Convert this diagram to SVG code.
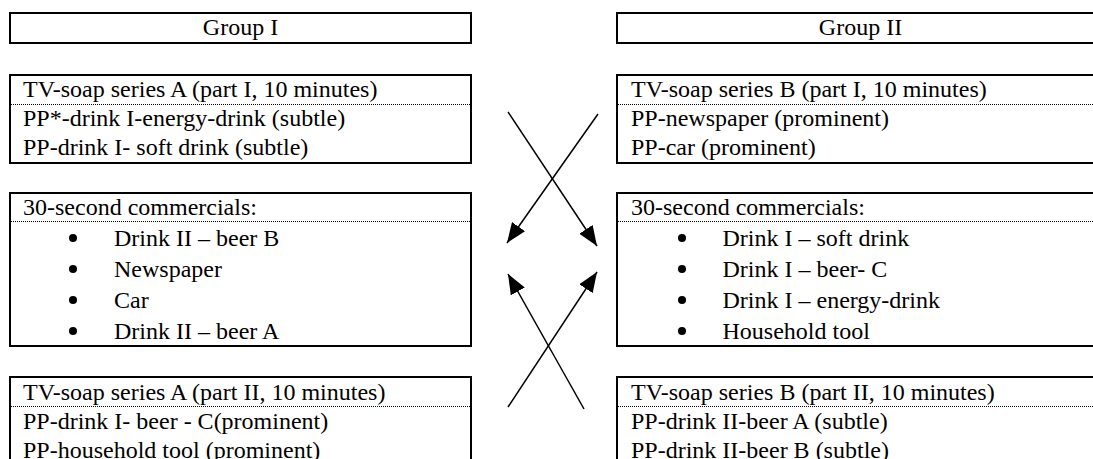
<svg xmlns="http://www.w3.org/2000/svg" width="1093" height="459" viewBox="0 0 1093 459">
<style>
.box{fill:#fff;stroke:#000;stroke-width:2}
.dot{stroke:#000;stroke-width:1;stroke-dasharray:1 1;fill:none}
.t{font-family:"Liberation Serif","Times New Roman",serif;font-size:24px;fill:#000}
.c{text-anchor:middle}
.b{fill:#000}
.arr{stroke:#000;stroke-width:1.5;fill:none;marker-end:url(#ah)}
</style>
<defs>
<marker id="ah" markerUnits="userSpaceOnUse" markerWidth="22" markerHeight="16" refX="20" refY="8" orient="auto">
<path d="M0,0 L20,8 L0,16 Z" fill="#000"/>
</marker>
</defs>
<rect width="1093" height="459" fill="#fff"/>

<g id="group1">
<rect class="box" x="10" y="13" width="461" height="30"/>
<text class="t c" x="240.5" y="35">Group I</text>
</g>
<g id="group2">
<rect class="box" x="617" y="13" width="487" height="30"/>
<text class="t c" x="860.5" y="35">Group II</text>
</g>

<g id="a1">
<rect class="box" x="10" y="75" width="461" height="88"/>
<line class="dot" x1="11" y1="104.5" x2="470" y2="104.5"/>
<text class="t" x="23" y="97">TV-soap series A (part I, 10 minutes)</text>
<text class="t" x="23" y="126">PP*-drink I-energy-drink (subtle)</text>
<text class="t" x="23" y="155">PP-drink I- soft drink (subtle)</text>
</g>
<g id="b1">
<rect class="box" x="617" y="75" width="487" height="88"/>
<line class="dot" x1="618" y1="104.5" x2="1093" y2="104.5"/>
<text class="t" x="631" y="97">TV-soap series B (part I, 10 minutes)</text>
<text class="t" x="631" y="126">PP-newspaper (prominent)</text>
<text class="t" x="631" y="155">PP-car (prominent)</text>
</g>

<g id="a2">
<rect class="box" x="10" y="193" width="461" height="153"/>
<line class="dot" x1="11" y1="221.5" x2="470" y2="221.5"/>
<text class="t" x="23" y="215">30-second commercials:</text>
<circle class="b" cx="73" cy="238" r="4"/>
<text class="t" x="114" y="246">Drink II – beer B</text>
<circle class="b" cx="73" cy="269" r="4"/>
<text class="t" x="114" y="277">Newspaper</text>
<circle class="b" cx="73" cy="300" r="4"/>
<text class="t" x="114" y="308">Car</text>
<circle class="b" cx="73" cy="331" r="4"/>
<text class="t" x="114" y="339">Drink II – beer A</text>
</g>
<g id="b2">
<rect class="box" x="617" y="193" width="487" height="153"/>
<line class="dot" x1="618" y1="221.5" x2="1093" y2="221.5"/>
<text class="t" x="631" y="215">30-second commercials:</text>
<circle class="b" cx="682" cy="238" r="4"/>
<text class="t" x="722.5" y="246">Drink I – soft drink</text>
<circle class="b" cx="682" cy="269" r="4"/>
<text class="t" x="722.5" y="277">Drink I – beer- C</text>
<circle class="b" cx="682" cy="300" r="4"/>
<text class="t" x="722.5" y="308">Drink I – energy-drink</text>
<circle class="b" cx="682" cy="331" r="4"/>
<text class="t" x="722.5" y="339">Household tool</text>
</g>

<g id="a3">
<rect class="box" x="10" y="377" width="461" height="110"/>
<line class="dot" x1="11" y1="406.5" x2="470" y2="406.5"/>
<text class="t" x="23" y="400">TV-soap series A (part II, 10 minutes)</text>
<text class="t" x="23" y="429">PP-drink I- beer - C(prominent)</text>
<text class="t" x="23" y="458">PP-household tool (prominent)</text>
</g>
<g id="b3">
<rect class="box" x="617" y="377" width="487" height="110"/>
<line class="dot" x1="618" y1="406.5" x2="1093" y2="406.5"/>
<text class="t" x="631" y="400">TV-soap series B (part II, 10 minutes)</text>
<text class="t" x="631" y="429">PP-drink II-beer A (subtle)</text>
<text class="t" x="631" y="458">PP-drink II-beer B (subtle)</text>
</g>

<g id="connectors">
<line class="arr" x1="508" y1="112" x2="597" y2="246"/>
<line class="arr" x1="598" y1="114" x2="507" y2="243"/>
<line class="arr" x1="508" y1="407" x2="597" y2="272"/>
<line class="arr" x1="584" y1="409" x2="508" y2="274"/>
</g>
</svg>
